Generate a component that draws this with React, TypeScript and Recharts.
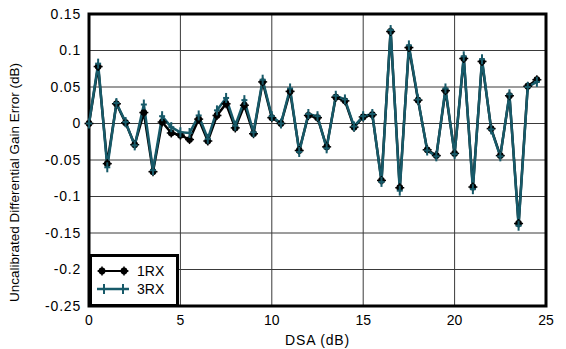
import React from 'react';
import { LineChart, Line, XAxis, YAxis, CartesianGrid, ReferenceArea } from 'recharts';

// DSA steps 0 .. 24.5 dB in 0.5 dB increments
const dsa = [
  0, 0.5, 1, 1.5, 2, 2.5, 3, 3.5, 4, 4.5, 5, 5.5, 6, 6.5, 7, 7.5, 8, 8.5, 9, 9.5,
  10, 10.5, 11, 11.5, 12, 12.5, 13, 13.5, 14, 14.5, 15, 15.5, 16, 16.5, 17, 17.5, 18, 18.5, 19, 19.5,
  20, 20.5, 21, 21.5, 22, 22.5, 23, 23.5, 24, 24.5,
];

const rx1 = [
  0, 0.078, -0.055, 0.027, 0.001, -0.029, 0.015, -0.066, 0.002, -0.013, -0.016, -0.022, 0.006, -0.024, 0.011, 0.027, -0.006, 0.025, -0.014, 0.057,
  0.008, 0.0, 0.044, -0.037, 0.011, 0.008, -0.032, 0.036, 0.031, -0.005, 0.009, 0.012, -0.078, 0.126, -0.088, 0.104, 0.032, -0.036, -0.044, 0.045,
  -0.041, 0.089, -0.087, 0.085, -0.007, -0.044, 0.038, -0.137, 0.051, 0.06,
];

const rx3 = [
  0, 0.082, -0.06, 0.028, 0.002, -0.03, 0.026, -0.064, 0.01, -0.005, -0.012, -0.013, 0.011, -0.021, 0.018, 0.035, -0.003, 0.032, -0.012, 0.06,
  0.01, 0.0, 0.048, -0.039, 0.013, 0.01, -0.034, 0.038, 0.033, -0.004, 0.01, 0.013, -0.08, 0.128, -0.092, 0.107, 0.033, -0.037, -0.045, 0.048,
  -0.042, 0.092, -0.09, 0.088, -0.008, -0.045, 0.04, -0.14, 0.05, 0.057,
];

const xTicks = [0, 5, 10, 15, 20, 25];
const yTicks = [0.15, 0.1, 0.05, 0, -0.05, -0.1, -0.15, -0.2, -0.25];

const data = dsa.map((d, i) => ({ dsa: d, rx1: rx1[i], rx3: rx3[i] }));

const TEAL = '#175a69';
const FONT = 'Arial, "Liberation Sans", sans-serif';

const StarDot = (props: any) => {
  const { cx, cy, index } = props;
  if (cx == null || cy == null) return null;
  return (
    <g key={`s-${index}`}>
      <circle cx={cx} cy={cy} r={3.4} fill="#000" />
      <line x1={cx - 4.5} y1={cy} x2={cx + 4.5} y2={cy} stroke="#000" strokeWidth={1.5} />
      <line x1={cx} y1={cy - 4.5} x2={cx} y2={cy + 4.5} stroke="#000" strokeWidth={1.5} />
    </g>
  );
};

const PlusDot = (props: any) => {
  const { cx, cy, index } = props;
  if (cx == null || cy == null) return null;
  return (
    <g key={`p-${index}`}>
      <line x1={cx} y1={cy - 5} x2={cx} y2={cy + 5} stroke={TEAL} strokeWidth={2} />
      <line x1={cx - 3} y1={cy} x2={cx + 3} y2={cy} stroke={TEAL} strokeWidth={2} />
    </g>
  );
};

const LegendBox = () => (
  <div
    style={{
      position: 'absolute',
      left: 89,
      top: 254,
      width: 90,
      height: 53,
      boxSizing: 'border-box',
      border: '3px solid #000',
      background: '#fff',
      paddingTop: 5,
    }}
  >
    <svg width={84} height={42} style={{ fontFamily: FONT }}>
      <line x1={6} y1={9} x2={36} y2={9} stroke="#000" strokeWidth={2} />
      <StarDot cx={10} cy={9} index={0} />
      <StarDot cx={32} cy={9} index={1} />
      <text x={45} y={14} fontSize={14} fill="#000">1RX</text>
      <line x1={5} y1={27} x2={37} y2={27} stroke={TEAL} strokeWidth={2.5} />
      <PlusDot cx={12} cy={27} index={0} />
      <PlusDot cx={31} cy={27} index={1} />
      <text x={45} y={32} fontSize={14} fill="#000">3RX</text>
    </svg>
  </div>
);

export default function App() {
  return (
    <div style={{ position: 'absolute', left: 0, top: 0, background: '#fff', width: 566, height: 349 }}>
      <LineChart
        width={566}
        height={349}
        data={data}
        margin={{ top: 14, right: 20, bottom: 0, left: 30 }}
        style={{ fontFamily: FONT }}
      >
        <CartesianGrid stroke="#3a3a3a" strokeWidth={1} />
        <XAxis
          dataKey="dsa"
          type="number"
          domain={[0, 25]}
          ticks={xTicks}
          height={43}
          axisLine={false}
          tickLine={false}
          tickSize={0}
          tickMargin={9}
          tick={{ fontSize: 14, fill: '#000' }}
          label={{ value: 'DSA (dB)', position: 'insideBottom', offset: 4, fontSize: 14, fill: '#000', letterSpacing: 0.8 }}
        />
        <YAxis
          type="number"
          domain={[-0.25, 0.15]}
          ticks={yTicks}
          width={59}
          axisLine={false}
          tickLine={false}
          tickSize={0}
          tickMargin={8}
          interval={0}
          tick={{ fontSize: 14, fill: '#000', letterSpacing: 0.8 }}
          label={{
            value: 'Uncalibrated Differential Gain Error (dB)',
            angle: -90,
            position: 'insideLeft',
            offset: -16,
            dy: 142,
            fontSize: 13.5,
            fill: '#000',
          }}
        />
        <ReferenceArea x1={0} x2={25} y1={-0.25} y2={0.15} fill="none" stroke="#000" strokeWidth={3} ifOverflow="visible" />
        <Line
          dataKey="rx1"
          stroke="#000"
          strokeWidth={2.5}
          dot={StarDot}
          isAnimationActive={false}
        />
        <Line
          dataKey="rx3"
          stroke={TEAL}
          strokeWidth={2.5}
          dot={PlusDot}
          isAnimationActive={false}
        />
      </LineChart>
      <LegendBox />
    </div>
  );
}
